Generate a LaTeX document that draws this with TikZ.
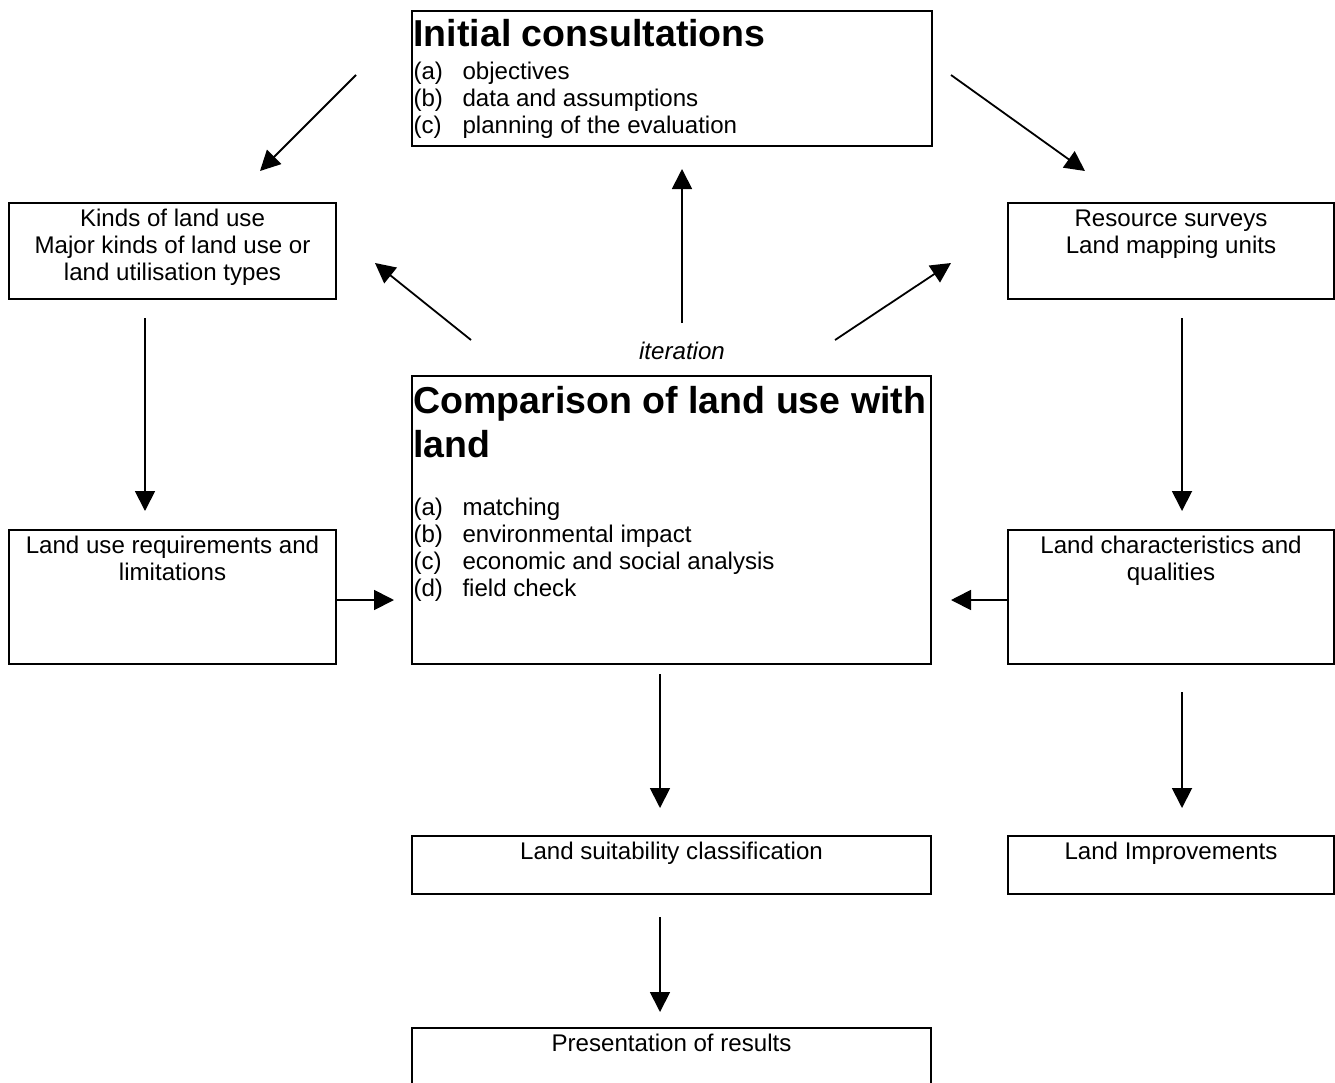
\documentclass[tikz,border=0pt]{standalone}
\usepackage{fontspec}
\setmainfont{Liberation Sans}
\usetikzlibrary{arrows.meta}
\newcommand{\nfont}{\fontsize{24.1}{27}\selectfont}
\newcommand{\tfont}{\fontsize{37.5}{44}\selectfont\bfseries}
\newcommand{\fst}{\rule{0pt}{20pt}}
\newcommand{\tst}{\rule{0pt}{30pt}}
\newcommand{\itm}[2]{\makebox[49pt][l]{#1}#2}
\tikzset{
  box/.style={draw, line width=1.7pt, inner sep=0pt, outer sep=0pt, anchor=north west},
  txt/.style={inner sep=0pt, outer sep=0pt, anchor=north, align=center, font=\nfont},
  ltxt/.style={inner sep=0pt, outer sep=0pt, anchor=north west, align=left, font=\nfont},
  ttl/.style={inner sep=0pt, outer sep=0pt, anchor=north west, align=left, font=\tfont},
  arr/.style={line width=1.8pt, -{Triangle[length=20pt,width=20pt]}}
}
\begin{document}
\begin{tikzpicture}[x=1pt,y=-1pt]
\useasboundingbox (0,0) rectangle (1335,1082);
\fill[white] (0,0) rectangle (1335,1082);

% boxes
\node[box, minimum width=520pt, minimum height=135pt] (init) at (412,11) {};
\node[box, minimum width=327pt, minimum height=96pt] (kinds) at (9,203) {};
\node[box, minimum width=326pt, minimum height=96pt] (res) at (1008,203) {};
\node[box, minimum width=327pt, minimum height=134pt] (req) at (9,530) {};
\node[box, minimum width=519pt, minimum height=288pt] (comp) at (412,376) {};
\node[box, minimum width=326pt, minimum height=134pt] (chars) at (1008,530) {};
\node[box, minimum width=519pt, minimum height=58pt] (suit) at (412,836) {};
\node[box, minimum width=326pt, minimum height=58pt] (impr) at (1008,836) {};
\node[box, minimum width=519pt, minimum height=70pt] (pres) at (412,1028) {};

% texts
\node[ttl] (initT) at (413.5,16) {\tst Initial consultations};
\node[ltxt] (initL) at (413.5,59) {\fst\itm{(a)}{objectives}\\\itm{(b)}{data and assumptions}\\\itm{(c)}{planning of the evaluation}};
\node[ttl] (compT) at (413.5,383) {\tst Comparison of land use with\\land};
\node[ltxt] (compL) at (413.5,495) {\fst\itm{(a)}{matching}\\\itm{(b)}{environmental impact}\\\itm{(c)}{economic and social analysis}\\\itm{(d)}{field check}};
\node[txt] (kindsT) at (172.5,206) {\fst Kinds of land use\\Major kinds of land use or\\land utilisation types};
\node[txt] (resT) at (1171,206) {\fst Resource surveys\\Land mapping units};
\node[txt] (reqT) at (172.5,533) {\fst Land use requirements and\\limitations};
\node[txt] (charsT) at (1171,533) {\fst Land characteristics and\\qualities};
\node[txt] (suitT) at (671.5,839) {\fst Land suitability classification};
\node[txt] (imprT) at (1171,839) {\fst Land Improvements};
\node[txt] (presT) at (671.5,1031) {\fst Presentation of results};
\node[txt, font=\nfont\itshape] (iter) at (682,339) {\fst iteration};

% connector end points
\coordinate (c1s) at (356,75);   \coordinate (c1e) at (260,171);
\coordinate (c2s) at (951,75);   \coordinate (c2e) at (1085,171);
\coordinate (c3s) at (682,323);  \coordinate (c3e) at (682,169);
\coordinate (c4s) at (471,340);  \coordinate (c4e) at (375,263);
\coordinate (c5s) at (835,340);  \coordinate (c5e) at (951,263);
\coordinate (c6s) at (145,318);  \coordinate (c6e) at (145,511);
\coordinate (c7s) at (1182,318); \coordinate (c7e) at (1182,511);
\coordinate (c8e) at (394,600);
\coordinate (c9e) at (951,600);
\coordinate (c10s) at (660,674); \coordinate (c10e) at (660,808);
\coordinate (c11s) at (1182,692);\coordinate (c11e) at (1182,808);
\coordinate (c12s) at (660,917); \coordinate (c12e) at (660,1012);

\draw[arr] (c1s) -- (c1e);
\draw[arr] (c2s) -- (c2e);
\draw[arr] (c3s) -- (c3e);
\draw[arr] (c4s) -- (c4e);
\draw[arr] (c5s) -- (c5e);
\draw[arr] (c6s) -- (c6e);
\draw[arr] (c7s) -- (c7e);
\draw[arr] (req.east |- c8e) -- (c8e);
\draw[arr] (chars.west |- c9e) -- (c9e);
\draw[arr] (c10s) -- (c10e);
\draw[arr] (c11s) -- (c11e);
\draw[arr] (c12s) -- (c12e);
\end{tikzpicture}
\end{document}
